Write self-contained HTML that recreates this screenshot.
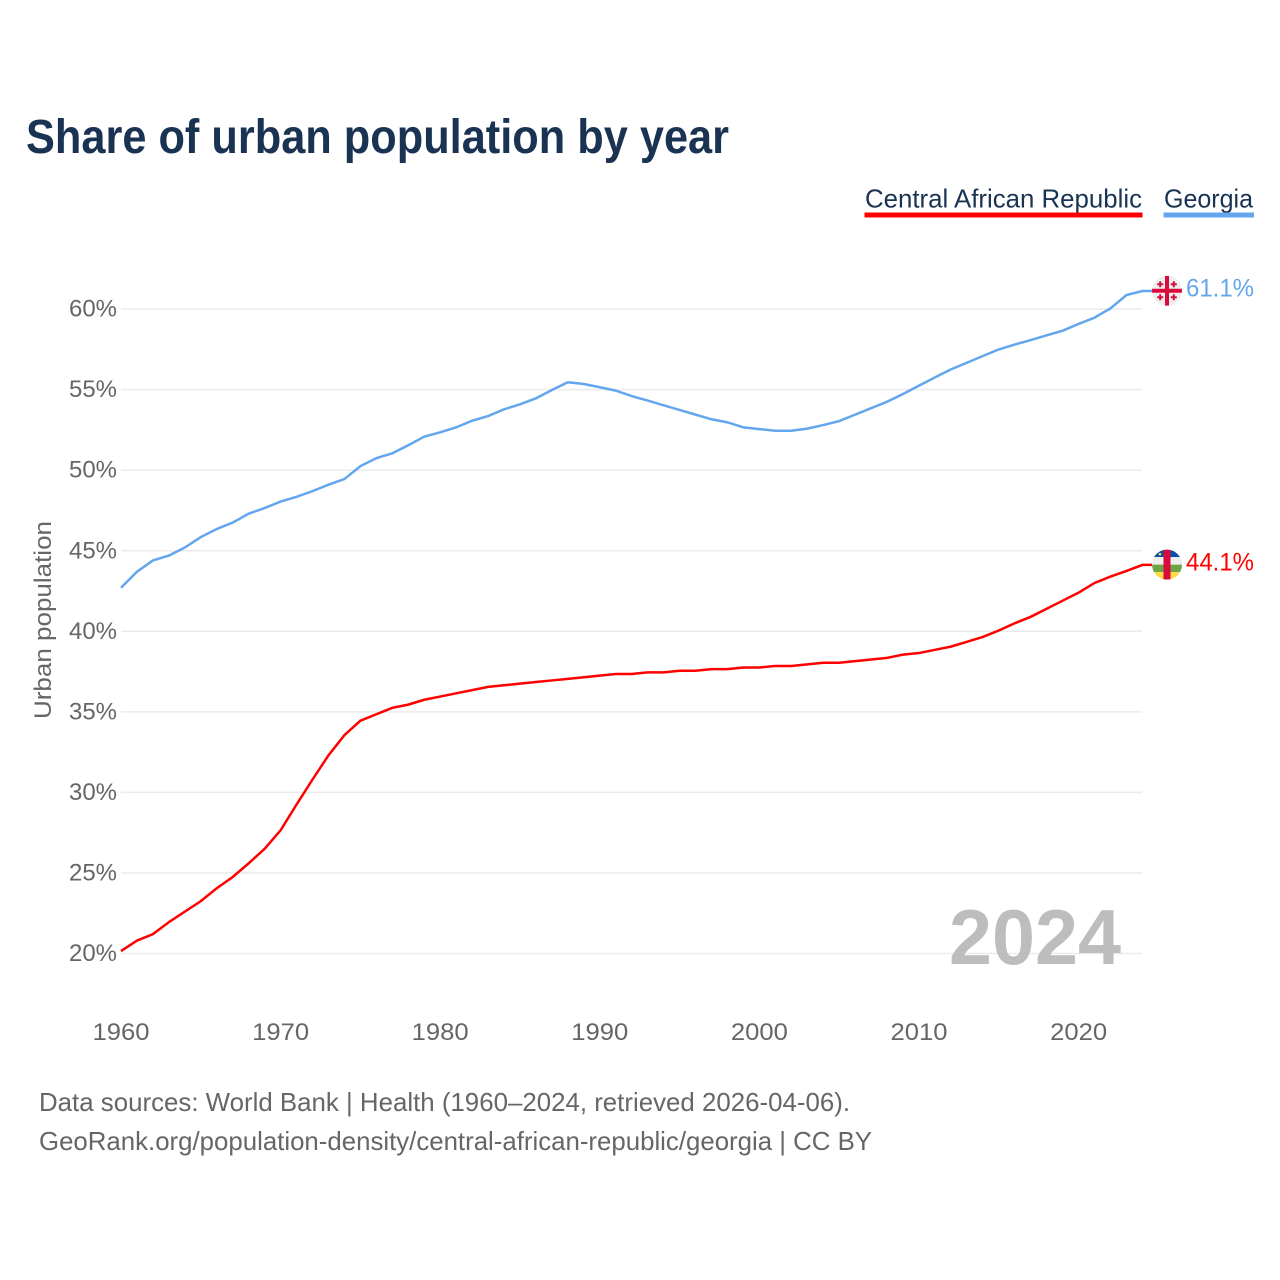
<!DOCTYPE html>
<html lang="en">
<head>
<meta charset="utf-8">
<title>Share of urban population by year</title>
<style>
html,body{margin:0;padding:0;background:#fff;}
svg{display:block;}
text{font-family:"Liberation Sans",sans-serif;}
</style>
</head>
<body>
<svg id="chart" xmlns="http://www.w3.org/2000/svg" width="1280" height="1280" viewBox="0 0 1280 1280">
  <defs>
    <clipPath id="clip-flag"><circle cx="0" cy="0" r="15"/></clipPath>
  </defs>
  <rect x="0" y="0" width="1280" height="1280" fill="#ffffff"/>
  <text x="26" y="153" font-size="48" font-weight="700" fill="#1a3352" textLength="703" lengthAdjust="spacingAndGlyphs">Share of urban population by year</text>

  <g>
    <text x="865" y="207.5" font-size="26" fill="#1a3352" textLength="277" lengthAdjust="spacingAndGlyphs">Central African Republic</text>
    <rect x="864.5" y="212.5" width="278" height="5" fill="#ff0000"/>
  </g>
  <g>
    <text x="1164" y="207.5" font-size="26" fill="#1a3352" textLength="89" lengthAdjust="spacingAndGlyphs">Georgia</text>
    <rect x="1163.5" y="212.5" width="90.5" height="5" fill="#64a6ee"/>
  </g>

  <g id="grid"></g>
  <g id="y-axis"></g>
  <g id="x-axis"></g>
  <text transform="translate(51,620) rotate(-90)" text-anchor="middle" font-size="24.5" fill="#666666" textLength="198" lengthAdjust="spacingAndGlyphs">Urban population</text>

  <text id="year-label" x="1121" y="964" text-anchor="end" font-size="78" font-weight="700" fill="#bdbdbd" textLength="172" lengthAdjust="spacingAndGlyphs">2024</text>

  <g id="series"></g>

  <g id="flag-georgia">
    <g clip-path="url(#clip-flag)">
      <rect x="-15" y="-15" width="30" height="30" fill="#eeeeee"/>
      <rect x="-2" y="-15" width="4" height="30" fill="#d80b3c"/>
      <rect x="-15" y="-2" width="30" height="4" fill="#d80b3c"/>
      <path d="M-7.8-9.5h2v2h2v2h-2v2h-2v-2h-2v-2h2zM5.8-9.5h2v2h2v2h-2v2h-2v-2h-2v-2h2zM-7.8 3.5h2v2h2v2h-2v2h-2v-2h-2v-2h2zM5.8 3.5h2v2h2v2h-2v2h-2v-2h-2v-2h2z" fill="#d80b3c"/>
    </g>
  </g>
  <g id="flag-car">
    <g clip-path="url(#clip-flag)">
      <rect x="-15" y="-15" width="30" height="7.5" fill="#0a4fa8"/>
      <rect x="-15" y="-7.5" width="30" height="7.5" fill="#eeeeee"/>
      <rect x="-15" y="0" width="30" height="7.5" fill="#6da544"/>
      <rect x="-15" y="7.5" width="30" height="7.5" fill="#ffda44"/>
      <rect x="-3.5" y="-15" width="7" height="30" fill="#d80b3c"/>
      <circle cx="-7" cy="-10.5" r="1.3" fill="#ffda44"/>
    </g>
  </g>
  <text id="value-georgia" x="1186" font-size="25" fill="#64a6ee" textLength="68" lengthAdjust="spacingAndGlyphs"></text>
  <text id="value-car" x="1186" font-size="25" fill="#ff0000" textLength="68" lengthAdjust="spacingAndGlyphs"></text>

  <text x="39" y="1111" font-size="26" fill="#666666" textLength="811" lengthAdjust="spacingAndGlyphs">Data sources: World Bank | Health (1960–2024, retrieved 2026-04-06).</text>
  <text x="39" y="1150" font-size="26" fill="#666666" textLength="833" lengthAdjust="spacingAndGlyphs">GeoRank.org/population-density/central-african-republic/georgia | CC BY</text>
</svg>
<script>
const startYear = 1960;
const yTicks = [20, 25, 30, 35, 40, 45, 50, 55, 60];
const xTicks = [1960, 1970, 1980, 1990, 2000, 2010, 2020];
const georgiaValues = [
  42.7, 43.7, 44.4, 44.7, 45.2, 45.85, 46.35, 46.75, 47.3, 47.65,
  48.05, 48.35, 48.7, 49.1, 49.45, 50.25, 50.75, 51.05, 51.55, 52.08,
  52.35, 52.66, 53.07, 53.36, 53.78, 54.09, 54.46, 54.98, 55.46, 55.35,
  55.15, 54.94, 54.6, 54.32, 54.03, 53.74, 53.45, 53.16, 52.97, 52.66,
  52.55, 52.45, 52.45, 52.58, 52.8, 53.05, 53.45, 53.85, 54.25, 54.73,
  55.25, 55.76, 56.26, 56.67, 57.09, 57.5, 57.8, 58.08, 58.37, 58.66,
  59.08, 59.47, 60.05, 60.87, 61.12
];
const carValues = [
  20.15, 20.8, 21.2, 21.95, 22.6, 23.25, 24.05, 24.75, 25.6, 26.5,
  27.65, 29.25, 30.8, 32.3, 33.56, 34.45, 34.85, 35.25, 35.45, 35.75,
  35.95, 36.15, 36.35, 36.55, 36.65, 36.75, 36.85, 36.95, 37.05, 37.15,
  37.25, 37.35, 37.35, 37.45, 37.45, 37.55, 37.55, 37.65, 37.65, 37.75,
  37.75, 37.85, 37.85, 37.95, 38.05, 38.05, 38.15, 38.25, 38.35, 38.55,
  38.65, 38.85, 39.05, 39.35, 39.65, 40.05, 40.5, 40.9, 41.4, 41.9,
  42.4, 43.0, 43.4, 43.75, 44.12
];

const SVG_NS = 'http://www.w3.org/2000/svg';
function xScale(year) { return 121 + (year - 1960) * 15.96; }
function yScale(v) { return 953.5 - (v - 20) * 16.11; }

const grid = document.getElementById('grid');
const yAxis = document.getElementById('y-axis');
const xAxis = document.getElementById('x-axis');
const series = document.getElementById('series');

yTicks.forEach(function (t) {
  const line = document.createElementNS(SVG_NS, 'line');
  
  
  line.setAttribute('x1', 121);
  line.setAttribute('x2', 1142);
  line.setAttribute('y1', yScale(t));
  line.setAttribute('y2', yScale(t));
  line.setAttribute('stroke', '#ebebeb');
  line.setAttribute('stroke-width', '1.5');
  grid.appendChild(line);

  const label = document.createElementNS(SVG_NS, 'text');
  
  
  label.setAttribute('x', 117);
  label.setAttribute('y', yScale(t) + 7.5);
  label.setAttribute('text-anchor', 'end');
  label.setAttribute('font-size', '24.5');
  label.setAttribute('fill', '#666666');
  label.setAttribute('textLength', '48');
  label.setAttribute('lengthAdjust', 'spacingAndGlyphs');
  label.textContent = t + '%';
  yAxis.appendChild(label);
});

xTicks.forEach(function (t) {
  const label = document.createElementNS(SVG_NS, 'text');
  
  
  label.setAttribute('x', xScale(t));
  label.setAttribute('y', 1040);
  label.setAttribute('text-anchor', 'middle');
  label.setAttribute('font-size', '24.5');
  label.setAttribute('fill', '#666666');
  label.setAttribute('textLength', '57');
  label.setAttribute('lengthAdjust', 'spacingAndGlyphs');
  label.textContent = t;
  xAxis.appendChild(label);
});

function pointsFor(values) {
  const pts = values.map(function (v, i) {
    return xScale(startYear + i).toFixed(2) + ',' + yScale(v).toFixed(2);
  });
  // short horizontal connector from the last point toward the flag
  pts.push('1152,' + yScale(values[values.length - 1]).toFixed(2));
  return pts.join(' ');
}

const georgiaLine = document.createElementNS(SVG_NS, 'polyline');


georgiaLine.setAttribute('points', pointsFor(georgiaValues));
georgiaLine.setAttribute('fill', 'none');
georgiaLine.setAttribute('stroke', '#64a6ee');
georgiaLine.setAttribute('stroke-width', '2.5');
series.appendChild(georgiaLine);

const carLine = document.createElementNS(SVG_NS, 'polyline');


carLine.setAttribute('points', pointsFor(carValues));
carLine.setAttribute('fill', 'none');
carLine.setAttribute('stroke', '#ff0000');
carLine.setAttribute('stroke-width', '2.5');
series.appendChild(carLine);

const georgiaLast = georgiaValues[georgiaValues.length - 1];
const carLast = carValues[carValues.length - 1];
document.getElementById('flag-georgia').setAttribute('transform', 'translate(1167,' + (yScale(georgiaLast) - 0.3) + ')');
document.getElementById('flag-car').setAttribute('transform', 'translate(1167,' + (yScale(carLast) - 0.3) + ')');
const georgiaValueLabel = document.getElementById('value-georgia');
georgiaValueLabel.setAttribute('y', yScale(georgiaLast) + 5.5);
georgiaValueLabel.textContent = georgiaLast.toFixed(1) + '%';
const carValueLabel = document.getElementById('value-car');
carValueLabel.setAttribute('y', yScale(carLast) + 5.5);
carValueLabel.textContent = carLast.toFixed(1) + '%';
</script>
</body>
</html>
